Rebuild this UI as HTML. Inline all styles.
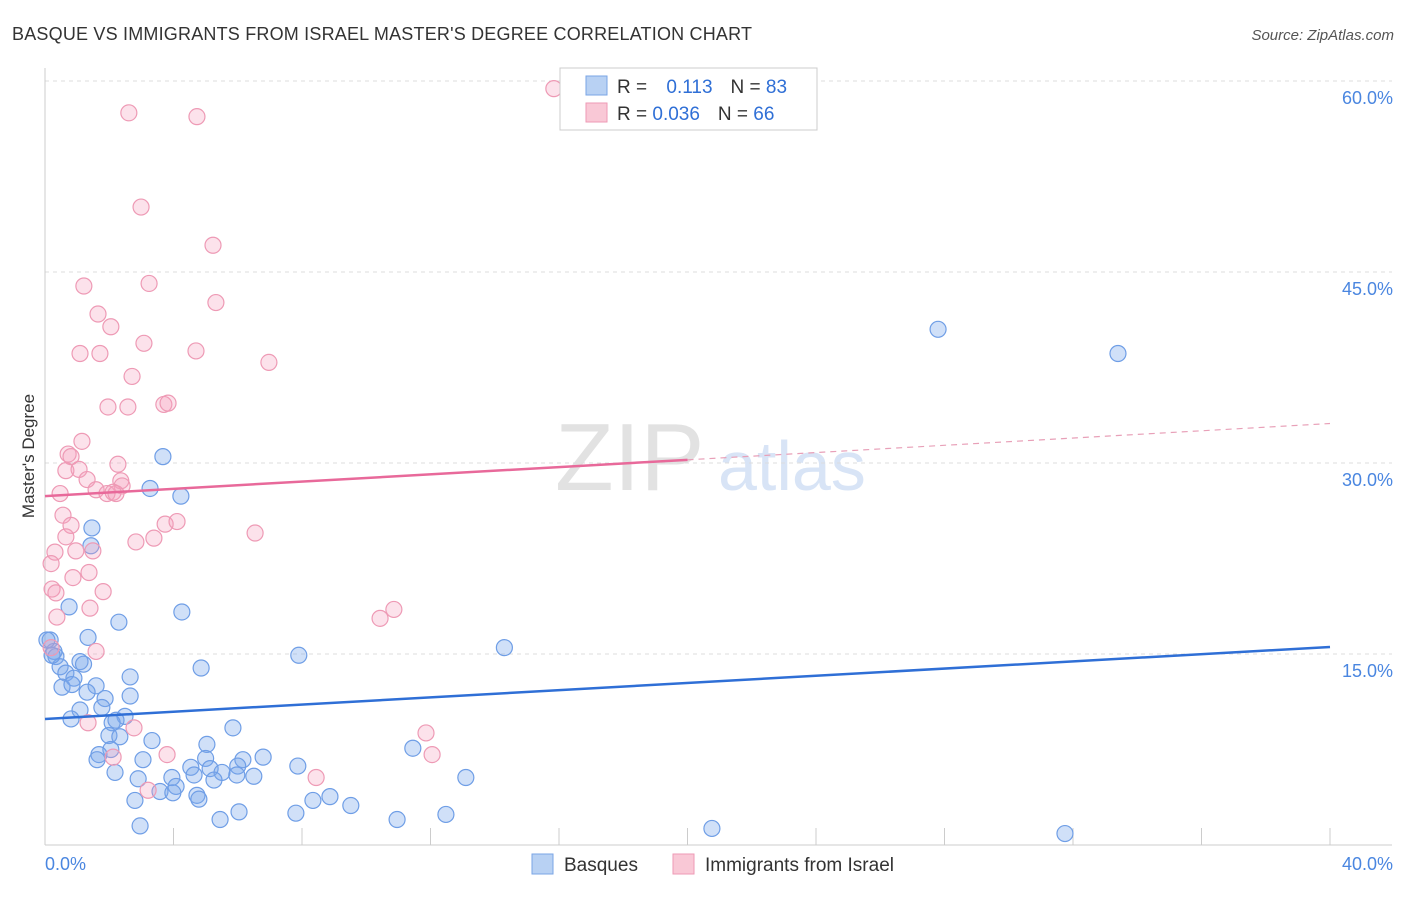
<!DOCTYPE html>
<html><head><meta charset="utf-8"><style>
body{margin:0;background:#fff;font-family:"Liberation Sans",sans-serif;}
svg text{font-family:"Liberation Sans",sans-serif;}
</style></head><body>
<svg id="chart" width="1406" height="892" xmlns="http://www.w3.org/2000/svg">
<text x="12" y="40" font-size="18" fill="#333" textLength="740" lengthAdjust="spacing">BASQUE VS IMMIGRANTS FROM ISRAEL MASTER'S DEGREE CORRELATION CHART</text>
<text x="1394" y="40" font-size="15" fill="#555" text-anchor="end" font-style="italic">Source: ZipAtlas.com</text>
<text transform="translate(34,456) rotate(-90)" font-size="17" fill="#333" text-anchor="middle">Master's Degree</text>
<g><text x="555" y="490" font-size="96" fill="#e2e2e2" font-family="Liberation Serif">ZIP</text><text x="718" y="490" font-size="70" fill="#d8e4f6">atlas</text></g>
<g id="grid"></g><g id="axes"></g><g id="pts"></g><g id="lines"></g>
<g>
<rect x="560" y="68" width="257" height="62" fill="#fff" stroke="#ccc"/>
<rect x="586" y="76" width="21" height="19" fill="#b8d1f3" stroke="#7aa5e6"/>
<rect x="586" y="103" width="21" height="19" fill="#f9c8d6" stroke="#ee9ab5"/>
<text x="617" y="93" font-size="19" fill="#333">R = <tspan fill="#2f6fd6" dx="14">0.113</tspan><tspan fill="#333" dx="18">N = </tspan><tspan fill="#2f6fd6">83</tspan></text>
<text x="617" y="120" font-size="19" fill="#333">R = <tspan fill="#2f6fd6">0.036</tspan><tspan fill="#333" dx="18">N = </tspan><tspan fill="#2f6fd6">66</tspan></text>
</g>
<g>
<rect x="532" y="854" width="21" height="20" fill="#b8d1f3" stroke="#7aa5e6"/>
<text x="564" y="871" font-size="19" fill="#333">Basques</text>
<rect x="673" y="854" width="21" height="20" fill="#f9c8d6" stroke="#ee9ab5"/>
<text x="705" y="871" font-size="19" fill="#333">Immigrants from Israel</text>
</g>
</svg>
<script>
const yTicks=[15,30,45,60];
const yTickLabels=["15.0%","30.0%","45.0%","60.0%"];
const xTickVals=[0,4,8,12,16,20,24,28,32,36,40];
const blueX=[27.8,33.4,3.67,3.27,4.23,1.46,1.43,0.75,4.26,2.3,1.34,0.16,0.28,0.34,7.9,14.3,1.09,1.2,0.47,0.65,0.9,2.65,4.86,0.53,0.84,1.59,1.31,1.87,2.65,1.09,1.77,0.81,2.49,2.09,2.21,5.85,1.99,2.33,3.33,5.04,11.45,2.05,1.68,1.62,3.05,5.0,6.79,6.16,6.0,4.54,5.14,2.18,7.87,5.51,5.97,6.5,4.64,2.9,3.95,5.26,13.1,4.08,3.58,3.98,4.73,4.79,2.8,8.34,8.87,9.52,6.04,7.81,12.48,5.45,10.96,2.96,20.76,31.75,0.06,0.22];
const blueY=[40.5,38.6,30.5,28.0,27.4,24.9,23.5,18.7,18.3,17.5,16.3,16.1,15.2,14.8,14.9,15.5,14.4,14.2,14.0,13.5,13.1,13.2,13.9,12.4,12.6,12.5,12.0,11.5,11.7,10.6,10.8,9.9,10.1,9.6,9.8,9.2,8.6,8.5,8.2,7.9,7.6,7.5,7.1,6.7,6.7,6.8,6.9,6.7,6.2,6.1,6.0,5.7,6.2,5.7,5.5,5.4,5.5,5.2,5.3,5.1,5.3,4.6,4.2,4.1,3.9,3.6,3.5,3.5,3.8,3.1,2.6,2.5,2.4,2.0,2.0,1.5,1.3,0.9,16.1,14.9];
const pinkX=[15.84,2.61,4.73,2.99,5.23,1.21,3.24,5.32,1.65,2.05,3.08,1.09,1.71,4.7,6.97,2.71,1.96,2.58,3.7,3.83,1.15,0.72,0.81,2.27,0.65,1.06,1.31,2.36,2.4,0.47,1.59,1.93,2.12,2.21,0.56,0.81,3.74,4.11,0.65,3.39,2.83,6.54,0.96,1.49,0.31,0.19,1.37,0.87,0.22,0.34,1.81,1.4,10.86,10.43,0.37,1.59,0.19,1.34,2.77,11.86,3.8,12.05,2.12,8.44,3.21];
const pinkY=[59.4,57.5,57.2,50.1,47.1,43.9,44.1,42.6,41.7,40.7,39.4,38.6,38.6,38.8,37.9,36.8,34.4,34.4,34.6,34.7,31.7,30.7,30.5,29.9,29.4,29.5,28.7,28.6,28.2,27.6,27.9,27.6,27.7,27.6,25.9,25.1,25.2,25.4,24.2,24.1,23.8,24.5,23.1,23.1,23.0,22.1,21.4,21.0,20.1,19.8,19.9,18.6,18.5,17.8,17.9,15.2,15.5,9.6,9.2,8.8,7.1,7.1,6.9,5.3,4.3];
const blueTrend=[9.9,15.55];
const pinkTrend=[27.4,33.1];
const pinkSolidEnd=20;
const NS="http://www.w3.org/2000/svg";
const X=v=>45+v/40*1285, Y=v=>845-v/15*191;
function mk(tag,attrs,parent){const e=document.createElementNS(NS,tag);for(const k in attrs)e.setAttribute(k,attrs[k]);parent.appendChild(e);return e;}
const grid=document.getElementById('grid'),axes=document.getElementById('axes'),pts=document.getElementById('pts'),lines=document.getElementById('lines');
yTicks.forEach((t,i)=>{
 const l=mk('line',{x1:45,x2:1392,y1:Y(t),y2:Y(t),stroke:'#ddd','stroke-dasharray':'4,4'},grid);
 
 
 const tx=mk('text',{x:1393,y:Y(t)+23,'font-size':18,fill:'#4a86e0','text-anchor':'end'},axes);
 tx.textContent=yTickLabels[i];
 
 
});
const ya=mk('line',{x1:45,x2:45,y1:68,y2:845,stroke:'#ccc'},axes);


const xa=mk('line',{x1:45,x2:1392,y1:845,y2:845,stroke:'#ccc'},axes);


xTickVals.forEach(t=>{
 const l=mk('line',{x1:X(t),x2:X(t),y1:828,y2:845,stroke:'#ccc'},axes);
 
 
});
const x0=mk('text',{x:45,y:870,'font-size':18,fill:'#4a86e0'},axes);x0.textContent='0.0%';


const x1=mk('text',{x:1393,y:870,'font-size':18,fill:'#4a86e0','text-anchor':'end'},axes);x1.textContent='40.0%';


blueX.forEach((v,i)=>{
 const c=mk('circle',{cx:X(v),cy:Y(blueY[i]),r:8,fill:'rgba(120,165,235,0.35)',stroke:'#6f9ee6','stroke-width':1.2},pts);
 
 
});
pinkX.forEach((v,i)=>{
 const c=mk('circle',{cx:X(v),cy:Y(pinkY[i]),r:8,fill:'rgba(245,160,190,0.3)',stroke:'#ee9ab5','stroke-width':1.2},pts);
 
 
});
const bl=mk('line',{x1:X(0),y1:Y(blueTrend[0]),x2:X(40),y2:Y(blueTrend[1]),stroke:'#2f6fd6','stroke-width':2.5},lines);


const pm=pinkTrend[0]+(pinkTrend[1]-pinkTrend[0])*pinkSolidEnd/40;
const pl=mk('line',{x1:X(0),y1:Y(pinkTrend[0]),x2:X(pinkSolidEnd),y2:Y(pm),stroke:'#e8699a','stroke-width':2.5},lines);


const pd=mk('line',{x1:X(pinkSolidEnd),y1:Y(pm),x2:X(40),y2:Y(pinkTrend[1]),stroke:'#e8a0b8','stroke-width':1.2,'stroke-dasharray':'6,5'},lines);


</script>
</body></html>
